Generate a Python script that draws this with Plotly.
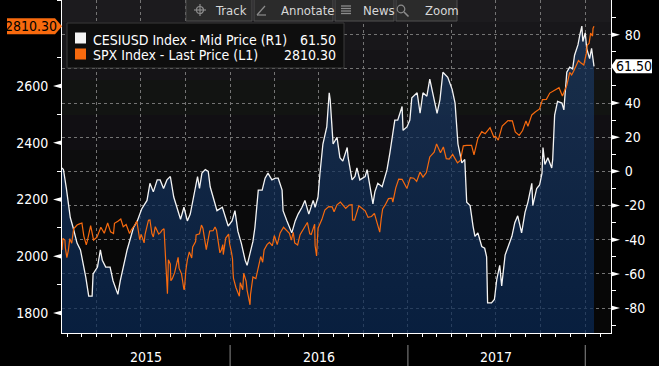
import plotly.graph_objects as go
import pandas as pd

# ---------------- data ----------------
cesi_dates = [
    "2015-01-20", "2015-01-23", "2015-01-29", "2015-02-06", "2015-02-12", "2015-02-20", "2015-02-27",
    "2015-03-05", "2015-03-10", "2015-03-16", "2015-03-23", "2015-03-25", "2015-04-03", "2015-04-09",
    "2015-04-13", "2015-04-20", "2015-04-29", "2015-05-05", "2015-05-15", "2015-05-20", "2015-05-26",
    "2015-06-03", "2015-06-09", "2015-06-16", "2015-06-24", "2015-07-03", "2015-07-14", "2015-07-20",
    "2015-07-27", "2015-08-04", "2015-08-10", "2015-08-17", "2015-08-24", "2015-08-31", "2015-09-07",
    "2015-09-14", "2015-09-21", "2015-09-28", "2015-10-05", "2015-10-11", "2015-10-16", "2015-10-26",
    "2015-10-30", "2015-11-04", "2015-11-11", "2015-11-17", "2015-11-21", "2015-11-27", "2015-12-05",
    "2015-12-16", "2015-12-22", "2015-12-28", "2016-01-05", "2016-01-11", "2016-01-17", "2016-01-24",
    "2016-02-01", "2016-02-05", "2016-02-11", "2016-02-17", "2016-02-21", "2016-02-28", "2016-03-07",
    "2016-03-13", "2016-03-19", "2016-03-27", "2016-04-03", "2016-04-09", "2016-04-17", "2016-04-19",
    "2016-04-27", "2016-05-07", "2016-05-14", "2016-05-20", "2016-05-28", "2016-06-03", "2016-06-11",
    "2016-06-20", "2016-06-24", "2016-06-30", "2016-07-04", "2016-07-10", "2016-07-18", "2016-07-23",
    "2016-07-25", "2016-07-31", "2016-08-08", "2016-08-14", "2016-08-20", "2016-08-29", "2016-08-31",
    "2016-09-08", "2016-09-14", "2016-09-18", "2016-09-24", "2016-10-05", "2016-10-09", "2016-10-15",
    "2016-10-21", "2016-10-25", "2016-10-31", "2016-11-09", "2016-11-19", "2016-11-25", "2016-12-05",
    "2016-12-11", "2016-12-20", "2016-12-22", "2016-12-30", "2017-01-05", "2017-01-09", "2017-01-20",
    "2017-01-26", "2017-02-01", "2017-02-09", "2017-02-15", "2017-02-21", "2017-03-02", "2017-03-08",
    "2017-03-14", "2017-03-24", "2017-04-02", "2017-04-08", "2017-04-14", "2017-04-22", "2017-04-28",
    "2017-05-02", "2017-05-09", "2017-05-15", "2017-05-19", "2017-05-25", "2017-06-02", "2017-06-08",
    "2017-06-12", "2017-06-14", "2017-06-22", "2017-06-28", "2017-07-03", "2017-07-09", "2017-07-13",
    "2017-07-20", "2017-07-26", "2017-08-03", "2017-08-09", "2017-08-15", "2017-08-23", "2017-08-30",
    "2017-09-05", "2017-09-13", "2017-09-15", "2017-09-23", "2017-09-29", "2017-10-04", "2017-10-06",
    "2017-10-10", "2017-10-16", "2017-10-24", "2017-10-26", "2017-10-30", "2017-11-05", "2017-11-14",
    "2017-11-18", "2017-11-24", "2017-11-30", "2017-12-06", "2017-12-10", "2017-12-17", "2017-12-21",
    "2017-12-25", "2017-12-27", "2018-01-01", "2018-01-04", "2018-01-06", "2018-01-10", "2018-01-14",
    "2018-01-19",
]
cesi_values = [
    2, 1, -10, -27, -33, -42, -46,
    -54, -62, -73, -73, -60, -56, -46,
    -52, -56, -56, -64, -72, -64, -56,
    -46, -40, -33, -29, -22, -17, -7,
    -12, -5, -5, -10, -5, -3, -15,
    -21, -28, -21, -29, -25, -17, -3,
    -10, -1, 1, 0, -9, -15, -23,
    -21, -27, -32, -29, -23, -35, -42,
    -52, -55, -48, -41, -33, -11, -11,
    -4, -1, -5, -4, -4, -11, -23,
    -29, -36, -29, -25, -21, -17, -25,
    -17, -21, -15, -1, 16, 26, 46,
    42, 16, 20, 8, 6, 14, 8,
    -5, -3, 2, -5, -3, 1, -9,
    -19, -12, -7, -9, 1, 11, 30,
    30, 38, 24, 26, 30, 43, 46,
    34, 46, 44, 54, 46, 34, 42,
    58, 55, 48, 40, 16, 5, 7,
    -18, -20, -32, -38, -36, -44, -45,
    -50, -77, -77, -75, -63, -55, -67,
    -49, -44, -38, -30, -26, -36, -24,
    -18, -7, -20, -10, -8, -1, 14,
    4, 8, 2, 7, 33, 41, 40,
    36, 58, 61, 60, 68, 74, 80,
    85, 76, 81, 72, 70, 66, 72,
    61.50,
]

spx_dates = [
    "2015-01-20", "2015-01-22", "2015-01-26", "2015-01-27", "2015-01-30", "2015-02-02", "2015-02-05",
    "2015-02-09", "2015-02-13", "2015-02-20", "2015-02-25", "2015-03-02", "2015-03-06", "2015-03-11",
    "2015-03-13", "2015-03-18", "2015-03-20", "2015-03-26", "2015-04-02", "2015-04-10", "2015-04-17",
    "2015-04-24", "2015-04-30", "2015-05-06", "2015-05-08", "2015-05-15", "2015-05-21", "2015-05-26",
    "2015-06-01", "2015-06-08", "2015-06-12", "2015-06-19", "2015-06-23", "2015-06-29", "2015-07-02",
    "2015-07-08", "2015-07-10", "2015-07-17", "2015-07-20", "2015-07-24", "2015-07-27", "2015-07-31",
    "2015-08-07", "2015-08-11", "2015-08-14", "2015-08-18", "2015-08-20", "2015-08-21", "2015-08-24",
    "2015-08-25", "2015-08-27", "2015-08-31", "2015-09-01", "2015-09-04", "2015-09-09", "2015-09-11",
    "2015-09-16", "2015-09-18", "2015-09-23", "2015-09-28", "2015-09-29", "2015-10-02", "2015-10-05",
    "2015-10-09", "2015-10-14", "2015-10-16", "2015-10-22", "2015-10-23", "2015-10-30", "2015-11-03",
    "2015-11-06", "2015-11-13", "2015-11-20", "2015-11-27", "2015-12-01", "2015-12-04", "2015-12-11",
    "2015-12-14", "2015-12-17", "2015-12-18", "2015-12-23", "2015-12-29", "2015-12-31", "2016-01-04",
    "2016-01-06", "2016-01-07", "2016-01-08", "2016-01-13", "2016-01-15", "2016-01-20", "2016-01-22",
    "2016-01-27", "2016-01-29", "2016-02-03", "2016-02-05", "2016-02-08", "2016-02-11", "2016-02-12",
    "2016-02-17", "2016-02-23", "2016-02-26", "2016-03-01", "2016-03-04", "2016-03-08", "2016-03-11",
    "2016-03-17", "2016-03-22", "2016-03-28", "2016-04-01", "2016-04-07", "2016-04-13", "2016-04-20",
    "2016-04-26", "2016-05-02", "2016-05-06", "2016-05-10", "2016-05-13", "2016-05-19", "2016-05-24",
    "2016-05-31", "2016-06-08", "2016-06-13", "2016-06-16", "2016-06-23", "2016-06-24", "2016-06-27",
    "2016-06-30", "2016-07-08", "2016-07-14", "2016-07-22", "2016-07-29", "2016-08-02", "2016-08-08",
    "2016-08-15", "2016-08-19", "2016-08-26", "2016-09-02", "2016-09-08", "2016-09-09", "2016-09-13",
    "2016-09-22", "2016-09-28", "2016-10-05", "2016-10-11", "2016-10-18", "2016-10-24", "2016-10-28",
    "2016-11-02", "2016-11-04", "2016-11-07", "2016-11-10", "2016-11-15", "2016-11-22", "2016-11-29",
    "2016-12-01", "2016-12-07", "2016-12-13", "2016-12-20", "2016-12-30", "2017-01-06", "2017-01-13",
    "2017-01-19", "2017-01-26", "2017-02-01", "2017-02-08", "2017-02-15", "2017-02-24", "2017-03-01",
    "2017-03-09", "2017-03-15", "2017-03-21", "2017-03-27", "2017-04-03", "2017-04-13", "2017-04-19",
    "2017-04-25", "2017-05-02", "2017-05-12", "2017-05-17", "2017-05-25", "2017-06-02", "2017-06-09",
    "2017-06-19", "2017-06-27", "2017-06-30", "2017-07-06", "2017-07-14", "2017-07-26", "2017-08-04",
    "2017-08-10", "2017-08-17", "2017-08-18", "2017-08-25", "2017-09-01", "2017-09-05", "2017-09-13",
    "2017-09-20", "2017-09-29", "2017-10-05", "2017-10-13", "2017-10-20", "2017-10-27", "2017-11-03",
    "2017-11-08", "2017-11-15", "2017-11-24", "2017-11-30", "2017-12-04", "2017-12-08", "2017-12-18",
    "2017-12-22", "2017-12-29", "2018-01-03", "2018-01-05", "2018-01-09", "2018-01-12", "2018-01-16",
    "2018-01-17", "2018-01-19",
]
spx_values = [
    2022, 2063, 2057, 2029, 1995, 2020, 2062,
    2046, 2097, 2110, 2114, 2117, 2071, 2040,
    2053, 2099, 2108, 2057, 2067, 2102, 2081,
    2117, 2086, 2080, 2116, 2123, 2131, 2104,
    2112, 2080, 2094, 2110, 2124, 2058, 2077,
    2047, 2077, 2127, 2128, 2080, 2068, 2104,
    2078, 2084, 2092, 2097, 2036, 1971, 1893,
    1868, 1988, 1972, 1914, 1921, 1943, 1961,
    1996, 1958, 1938, 1882, 1884, 1951, 1987,
    2015, 1994, 2033, 2052, 2075, 2079, 2110,
    2099, 2023, 2089, 2090, 2103, 2092, 2012,
    2022, 2041, 2006, 2064, 2078, 2044, 2012,
    1990, 1943, 1922, 1890, 1880, 1859, 1907,
    1882, 1940, 1912, 1880, 1853, 1829, 1865,
    1927, 1921, 1948, 1978, 1999, 1979, 2022,
    2041, 2049, 2037, 2073, 2041, 2082, 2102,
    2091, 2081, 2057, 2084, 2047, 2040, 2076,
    2097, 2119, 2079, 2077, 2113, 2037, 2001,
    2099, 2130, 2163, 2175, 2174, 2157, 2181,
    2191, 2184, 2169, 2180, 2182, 2128, 2127,
    2178, 2171, 2160, 2137, 2140, 2151, 2126,
    2098, 2085, 2132, 2167, 2180, 2203, 2205,
    2191, 2241, 2272, 2271, 2239, 2277, 2275,
    2264, 2297, 2279, 2295, 2350, 2367, 2396,
    2365, 2385, 2344, 2342, 2359, 2329, 2338,
    2389, 2391, 2391, 2357, 2415, 2439, 2432,
    2453, 2419, 2423, 2409, 2459, 2478, 2477,
    2438, 2430, 2426, 2443, 2477, 2458, 2498,
    2508, 2519, 2552, 2553, 2575, 2581, 2588,
    2594, 2565, 2602, 2648, 2639, 2652, 2690,
    2683, 2674, 2713, 2743, 2751, 2786, 2776,
    2803, 2810.30,
]

left_ticks = [1800, 2000, 2200, 2400, 2600]
left_minor = [1900, 2100, 2300, 2500, 2700, 2900]
right_ticks = [-80, -60, -40, -20, 0, 20, 40, 60, 80]
right_minor = [-90, -70, -50, -30, -10, 10, 30, 50, 70, 90]
right_hidden = [60]           # covered by the last-value tag
year_labels = ["2015", "2016", "2017"]
year_starts = ["2016-01-01", "2017-01-01", "2018-01-01"]
series_names = ["CESIUSD Index - Mid Price (R1)", "SPX Index - Last Price (L1)"]
toolbar_labels = ["Track", "Annotate", "News", "Zoom"]

# ---------------- layout constants ----------------
W, H = 659, 366
ML, MR, MT, MB = 62, 48, 0, 33
PW, PH = W - ML - MR, H - MT - MB
X_RANGE = ["2015-01-20", "2018-02-23"]
L_RANGE = [1729.5, 2903.0]
R_RANGE = [-94.6, 100.3]
L_PER_PX = (L_RANGE[1] - L_RANGE[0]) / PH
R_PER_PX = (R_RANGE[1] - R_RANGE[0]) / PH

FONT = "Liberation Sans Narrow, DejaVu Sans Condensed, Arial Narrow, Liberation Sans, sans-serif"
GRID = "#747474"
ORANGE = "#f86a0e"
WHITE = "#f4f4f4"
ICON = "#8c8c8c"


def px(x):
    return (x - ML) / PW


def py(y):
    return (H - MB - y) / PH


fig = go.Figure()

# baseline for the area fill under CESI
fig.add_trace(go.Scatter(
    x=cesi_dates, y=[R_RANGE[0]] * len(cesi_dates), yaxis="y", mode="lines",
    line=dict(width=0, color="rgba(0,0,0,0)"), hoverinfo="skip", showlegend=False))
fig.add_trace(go.Scatter(
    x=cesi_dates, y=cesi_values, yaxis="y", mode="lines", name=series_names[0],
    line=dict(color=WHITE, width=1.3), fill="tonexty",
    fillgradient=dict(type="vertical",
                      colorscale=[[0, "rgba(9,40,84,0.72)"], [1, "rgba(30,58,96,0.72)"]],
                      start=R_RANGE[0], stop=R_RANGE[1]),
    showlegend=False))
fig.add_trace(go.Scatter(
    x=spx_dates, y=spx_values, yaxis="y2", mode="lines", name=series_names[1],
    line=dict(color=ORANGE, width=1.2), showlegend=False))

shapes = []
annotations = []

# background bands of the plot area (dark gradient)
bands = [(0, 22, "#1c1b1e"), (22, 50, "#18171a"), (50, 80, "#151417"), (80, 115, "#121412"),
         (115, 150, "#110f13"), (150, 190, "#0d0d0e"), (190, 240, "#0a0a0b"), (240, 290, "#080808"),
         (290, 333, "#070707")]
for y0, y1, c in bands:
    shapes.append(dict(type="rect", xref="paper", yref="paper", x0=0, x1=1, y0=py(y1), y1=py(y0),
                       fillcolor=c, line=dict(width=0), layer="below"))

# tick flags (small triangles) on both value axes
hl = 2.5 * L_PER_PX
for v in left_ticks:
    shapes.append(dict(type="path", xref="paper", yref="y2",
                       path=f"M 0,{v + hl} L 0,{v - hl} L {-9 / PW},{v} Z",
                       fillcolor="white", line=dict(width=0)))
hr = 2.5 * R_PER_PX
for v in right_ticks:
    if v in right_hidden:
        continue
    shapes.append(dict(type="path", xref="paper", yref="y",
                       path=f"M 1,{v + hr} L 1,{v - hr} L {1 + 9 / PW},{v} Z",
                       fillcolor="white", line=dict(width=0)))

# last-value tags
spx_last = spx_values[-1]
cesi_last = cesi_values[-1]
hh = 8 * L_PER_PX
shapes.append(dict(type="path", xref="paper", yref="y2",
                   path=(f"M {px(7)},{spx_last + hh} L {px(55)},{spx_last + hh} L {px(62)},{spx_last} "
                         f"L {px(55)},{spx_last - hh} L {px(7)},{spx_last - hh} Z"),
                   fillcolor=ORANGE, line=dict(width=0)))
annotations.append(dict(xref="paper", yref="y2", x=px(31), y=spx_last, text=f"{spx_last:.2f}",
                        showarrow=False, font=dict(color="#000000", size=14, family=FONT),
                        xanchor="center", yanchor="middle"))
hh2 = 7 * R_PER_PX
shapes.append(dict(type="path", xref="paper", yref="y",
                   path=(f"M {px(611)},{cesi_last} L {px(616)},{cesi_last + hh2} L {px(652)},{cesi_last + hh2} "
                         f"L {px(652)},{cesi_last - hh2} L {px(616)},{cesi_last - hh2} Z"),
                   fillcolor="white", line=dict(width=0)))
annotations.append(dict(xref="paper", yref="y", x=px(634), y=cesi_last, text=f"{cesi_last:.2f}",
                        showarrow=False, font=dict(color="#000000", size=14, family=FONT),
                        xanchor="center", yanchor="middle"))

# legend box
shapes.append(dict(type="rect", xref="paper", yref="paper", x0=px(67), x1=px(344), y0=py(68), y1=py(23),
                   fillcolor="#0e0e0e", line=dict(color="#3a3a3a", width=1)))
for i, (name, col, val) in enumerate([(series_names[0], WHITE, f"{cesi_last:.2f}"),
                                      (series_names[1], ORANGE, f"{spx_last:.2f}")]):
    yc = 38 + i * 16
    shapes.append(dict(type="rect", xref="paper", yref="paper", x0=px(75), x1=px(86),
                       y0=py(yc + 5.5), y1=py(yc - 5.5), fillcolor=col, line=dict(width=0)))
    annotations.append(dict(xref="paper", yref="paper", x=px(91), y=py(yc + 1.5), text=name,
                            showarrow=False, xanchor="left", yanchor="middle",
                            font=dict(color="white", size=14, family=FONT)))
    annotations.append(dict(xref="paper", yref="paper", x=px(338), y=py(yc + 1.5), text=val,
                            showarrow=False, xanchor="right", yanchor="middle",
                            font=dict(color="white", size=14, family=FONT)))

# toolbar buttons
btn_edges = [185, 253, 334, 395, 458]
text_x = [213, 279, 361, 423]
for i, lab in enumerate(toolbar_labels):
    shapes.append(dict(type="rect", xref="paper", yref="paper", x0=px(btn_edges[i] + 1), x1=px(btn_edges[i + 1] - 1),
                       y0=py(21), y1=py(-2), fillcolor="#2b2b2b", line=dict(color="#4f4f4f", width=1)))
    annotations.append(dict(xref="paper", yref="paper", x=px(text_x[i]), y=py(10.5), text=lab,
                            showarrow=False, xanchor="left", yanchor="middle",
                            font=dict(color="#d8d8d8", size=13, family=FONT)))


def seg(x0, y0, x1, y1, w=1.2):
    shapes.append(dict(type="line", xref="paper", yref="paper", x0=px(x0), y0=py(y0), x1=px(x1), y1=py(y1),
                       line=dict(color=ICON, width=w)))


def ring(cx, cy, r, w=1.2):
    shapes.append(dict(type="circle", xref="paper", yref="paper", x0=px(cx - r), x1=px(cx + r),
                       y0=py(cy + r), y1=py(cy - r), line=dict(color=ICON, width=w)))


# track: crosshair
ring(200, 10, 3.5)
seg(194, 10, 206, 10)
seg(200, 4, 200, 16)
# annotate: pencil stroke
seg(257, 15, 265, 6)
seg(257, 15, 266, 15)
# news: text lines
for yy in (6, 8.5, 11, 13.5):
    seg(341, yy, 351, yy, 1.3)
# zoom: magnifier
ring(401, 9, 3.8)
seg(404, 12, 408.5, 16.5, 1.6)

# year labels and separators on the time axis
x_start = pd.Timestamp(X_RANGE[0])
bounds = [x_start] + [pd.Timestamp(d) for d in year_starts]
for i, lab in enumerate(year_labels):
    mid = bounds[i] + (bounds[i + 1] - bounds[i]) / 2
    annotations.append(dict(xref="x", yref="paper", x=mid.strftime("%Y-%m-%d"), y=py(357), text=lab,
                            showarrow=False, font=dict(color="white", size=14, family=FONT),
                            yanchor="middle"))
for d in year_starts:
    shapes.append(dict(type="line", xref="x", yref="paper", x0=d, x1=d, y0=py(345), y1=py(366),
                       line=dict(color="#8a8a8a", width=1)))

quarters = [d.strftime("%Y-%m-%d") for d in pd.date_range("2015-04-01", "2018-01-01", freq="QS")]
months = [d.strftime("%Y-%m-%d") for d in pd.date_range("2015-02-01", "2018-02-01", freq="MS")]

fig.update_layout(
    width=W, height=H, margin=dict(l=ML, r=MR, t=MT, b=MB, pad=0, autoexpand=False),
    paper_bgcolor="#000000", plot_bgcolor="#0a0a0a", showlegend=False, hovermode=False,
    font=dict(family=FONT, color="white", size=14),
    xaxis=dict(type="date", range=X_RANGE, tickvals=quarters, showticklabels=False,
               showgrid=True, gridcolor=GRID, griddash="3px,3px", gridwidth=1,
               ticks="outside", ticklen=3, tickcolor="white", showline=True, linecolor="white",
               linewidth=1, zeroline=False,
               minor=dict(tickvals=months, ticks="outside", ticklen=3, tickcolor="white", showgrid=False)),
    yaxis=dict(side="right", range=R_RANGE, tickvals=right_ticks,
               ticktext=["" if v in right_hidden else str(v) for v in right_ticks],
               showgrid=True, gridcolor=GRID, griddash="3px,3px", gridwidth=1,
               ticks="", showline=True, linecolor="white", linewidth=1, zeroline=False,
               ticklabelstandoff=10, tickfont=dict(size=14, color="white", family=FONT),
               minor=dict(tickvals=right_minor, ticks="outside", ticklen=4, tickcolor="white", showgrid=False)),
    yaxis2=dict(side="left", overlaying="y", range=L_RANGE, tickvals=left_ticks,
                showgrid=False, ticks="", showline=True, linecolor="white", linewidth=1, zeroline=False,
                ticklabelstandoff=10, tickfont=dict(size=14, color="white", family=FONT),
                minor=dict(tickvals=left_minor, ticks="outside", ticklen=4, tickcolor="white", showgrid=False)),
    shapes=shapes, annotations=annotations,
)

fig.write_html("out.html", config={"displayModeBar": False},
               post_script="document.body.style.margin='0';document.body.style.padding='0';"
                           "document.body.style.background='#000';")
